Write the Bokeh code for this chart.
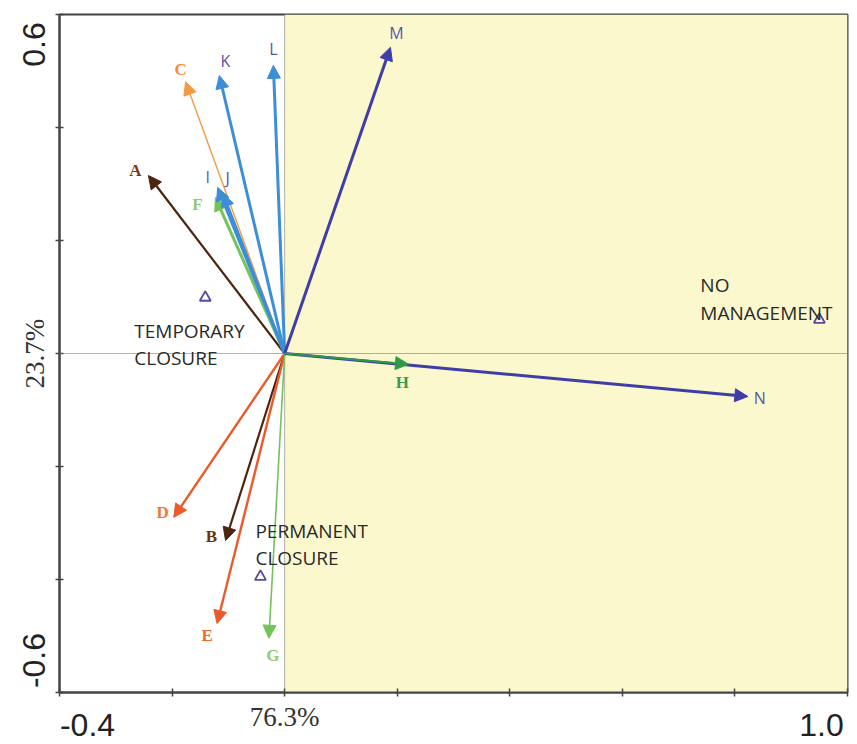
from bokeh.plotting import figure
from bokeh.models import Arrow, NormalHead, Label, Span, BoxAnnotation, FixedTicker, LinearAxis
from bokeh.embed import file_html
from bokeh.resources import INLINE

# ---------------- data ----------------
variables = ["A", "B", "C", "D", "E", "F", "G", "H", "I", "J", "K", "L", "M", "N"]
axis1 = [-0.242, -0.105, -0.176, -0.197, -0.120, -0.123, -0.028, 0.220, -0.119, -0.110, -0.116, -0.020, 0.188, 0.823]
axis2 = [0.315, -0.331, 0.481, -0.290, -0.478, 0.276, -0.504, -0.019, 0.294, 0.283, 0.492, 0.510, 0.542, -0.076]

sites = ["TEMPORARY\nCLOSURE", "PERMANENT\nCLOSURE", "NO\nMANAGEMENT"]
site_x = [-0.141, -0.043, 0.950]
site_y = [0.099, -0.395, 0.060]

x_ticks = [-0.4, -0.2, 0.0, 0.2, 0.4, 0.6, 0.8, 1.0]
y_ticks = [-0.6, -0.4, -0.2, 0.0, 0.2, 0.4, 0.6]
x_axis_pct = "76.3%"
y_axis_pct = "23.7%"

# ---------------- styles ----------------
BROWN = "#4E240E"
ORANGE = "#F29A45"
RED = "#EA5A2A"
LGREEN = "#74C25A"
GREEN = "#2E9A45"
BLUE = "#3C8FD6"
INDIGO = "#3F3DA8"
LBL_PURPLE = "#5B55A8"

# color, line width, label color, serif?, label dx, label dy (px, +down)
style = {
    "A": (BROWN, 2.2, "#7A3B12", True, -13, -5),
    "B": (BROWN, 2.2, "#6B3510", True, -14, -4),
    "C": (ORANGE, 1.4, "#F0903A", True, -5, -12),
    "D": (RED, 2.4, "#EE7A32", True, -11, -5),
    "E": (RED, 2.4, "#EE6A32", True, -10, 12),
    "F": (LGREEN, 3.0, "#8CCB6E", True, -18, 7),
    "G": (LGREEN, 1.6, "#8CCB6E", True, 4, 17),
    "H": (GREEN, 2.0, "#3D9A4A", True, -6, 18),
    "I": (BLUE, 3.0, LBL_PURPLE, False, -10, -10),
    "J": (BLUE, 3.0, LBL_PURPLE, False, 5, -16),
    "K": (BLUE, 3.0, LBL_PURPLE, False, 6, -15),
    "L": (BLUE, 3.0, LBL_PURPLE, False, 0, -16),
    "M": (INDIGO, 3.0, LBL_PURPLE, False, 6, -14),
    "N": (INDIGO, 3.0, LBL_PURPLE, False, 12, 2),
}
# label left offset, first baseline offset, second baseline offset (px, +down)
site_style = [(-71, 33, 60), (-5, -46, -19), (-119, -35, -7)]

draw_order = ["C", "A", "B", "D", "E", "G", "K", "L", "F", "I", "J", "M", "N", "H"]

FW, FH = 788, 678
xmin, xmax = x_ticks[0], x_ticks[-1]
ymin, ymax = y_ticks[0], y_ticks[-1]
px_x = FW / (xmax - xmin)
px_y = FH / (ymax - ymin)

p = figure(frame_width=FW, frame_height=FH,
           x_range=(xmin, xmax), y_range=(ymin, ymax),
           output_backend="svg", toolbar_location=None,
           min_border_left=59, min_border_right=10, min_border_top=14, min_border_bottom=52,
           background_fill_color="white", border_fill_color="white")

p.grid.visible = False
p.outline_line_color = "#444444"
p.outline_line_width = 2
p.outline_line_alpha = 1

AX = "#444444"
for ax, ticks, pct in ((p.xaxis, x_ticks, x_axis_pct), (p.yaxis, y_ticks, y_axis_pct)):
    ax.ticker = FixedTicker(ticks=ticks)
    ax.major_label_overrides = {t: (pct if t == 0 else "") for t in ticks}
    ax.axis_line_color = AX
    ax.axis_line_width = 2
    ax.major_tick_line_color = AX
    ax.major_tick_line_width = 1.5
    ax.major_tick_in = 4
    ax.major_tick_out = 4
    ax.minor_tick_line_color = None
    ax.major_label_text_font = "Liberation Serif"
    ax.major_label_text_font_size = "27px"
    ax.major_label_text_color = "#333333"
p.xaxis.major_label_standoff = 5
p.yaxis.major_label_standoff = 6
p.yaxis.major_label_orientation = "vertical"

# outer label axes for the end values (placed a little inside the corners)
xlab = [xmin + 28 / px_x, xmax - 26 / px_x]
ylab = [ymax - 30 / px_y, ymin + 32 / px_y]
xend = LinearAxis(ticker=FixedTicker(ticks=xlab),
                  major_label_overrides={xlab[0]: f"{xmin:.1f}", xlab[1]: f"{xmax:.1f}"},
                  axis_line_color=None, major_tick_line_color=None, minor_tick_line_color=None,
                  major_label_standoff=-27, major_label_text_font="Liberation Sans",
                  major_label_text_font_size="32px", major_label_text_color="#222222")
p.add_layout(xend, "below")
yend = LinearAxis(ticker=FixedTicker(ticks=ylab),
                  major_label_overrides={ylab[0]: f"{ymax:.1f}", ylab[1]: f"{ymin:.1f}"},
                  axis_line_color=None, major_tick_line_color=None, minor_tick_line_color=None,
                  major_label_standoff=-34, major_label_text_font="Liberation Sans",
                  major_label_text_font_size="32px", major_label_text_color="#222222",
                  major_label_orientation="vertical")
p.add_layout(yend, "left")

p.add_layout(BoxAnnotation(left=0, fill_color="#FBF8CE", fill_alpha=1, line_color=None, level="underlay"))
p.add_layout(Span(location=0, dimension="width", line_color="#666666", line_width=1, line_dash="1 1"))
p.add_layout(Span(location=0, dimension="height", line_color="#666666", line_width=1, line_dash="1 1"))

idx = {v: i for i, v in enumerate(variables)}
for v in draw_order:
    i = idx[v]
    col, lw, lcol, serif, dx, dy = style[v]
    p.add_layout(Arrow(x_start=0, y_start=0, x_end=axis1[i], y_end=axis2[i],
                       line_color=col, line_width=lw,
                       end=NormalHead(size=13, fill_color=col, line_color=col, line_width=1)))
for v in variables:
    i = idx[v]
    col, lw, lcol, serif, dx, dy = style[v]
    p.add_layout(Label(x=axis1[i], y=axis2[i], x_offset=dx, y_offset=-dy, text=v,
                       text_color=lcol, text_align="center", text_baseline="middle",
                       text_font="Liberation Serif" if serif else "Open Sans",
                       text_font_style="bold" if serif else "normal",
                       text_font_size="17px" if serif else "16px"))

p.scatter(site_x, site_y, marker="triangle", size=11, fill_color=None,
          line_color="#5B4A9C", line_width=1.8)
for s, sx, sy, (dx, b1, b2) in zip(sites, site_x, site_y, site_style):
    for line, b in zip(s.split("\n"), (b1, b2)):
        p.add_layout(Label(x=sx, y=sy, x_offset=dx, y_offset=-b, text=line,
                           text_color="#2A2A2A", text_align="left", text_baseline="alphabetic",
                           text_font="Open Sans", text_font_size="19px"))

open("out.html", "w").write(file_html(p, INLINE))
